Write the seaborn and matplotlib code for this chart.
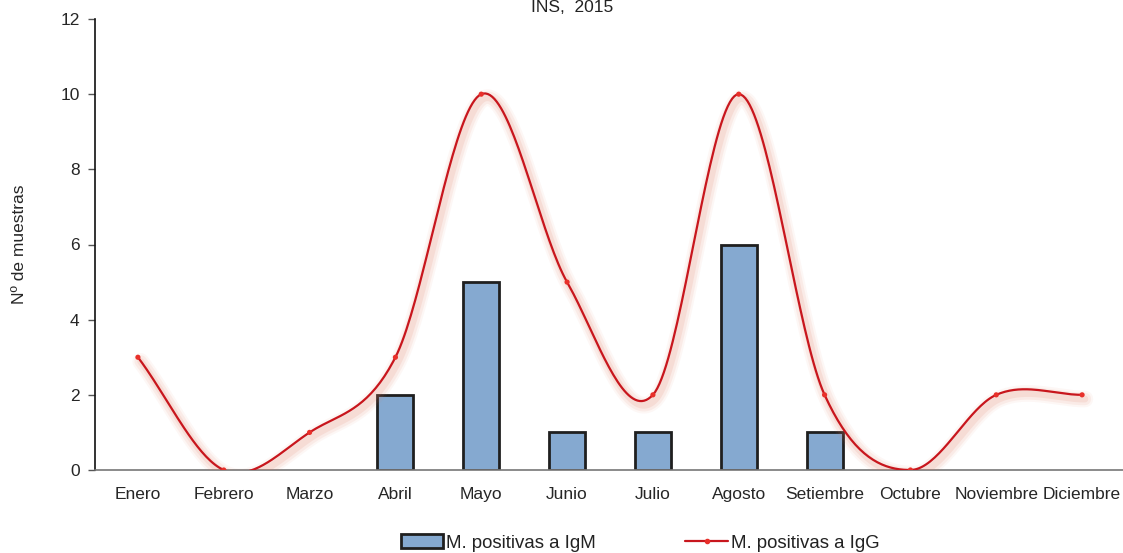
import numpy as np
import pandas as pd
import matplotlib
matplotlib.use("Agg")
import matplotlib.pyplot as plt
import matplotlib.patheffects as pe
from matplotlib.patches import Patch
from matplotlib.lines import Line2D
import seaborn as sns

meses = ["Enero", "Febrero", "Marzo", "Abril", "Mayo", "Junio", "Julio",
         "Agosto", "Setiembre", "Octubre", "Noviembre", "Diciembre"]
igm = [0, 0, 0, 2, 5, 1, 1, 6, 1, 0, 0, 0]
igg = [3, 0, 1, 3, 10, 5, 2, 10, 2, 0, 2, 2]
yticks = [0, 2, 4, 6, 8, 10, 12]

titulo = "INS,  2015"
ylabel = "Nº de muestras"
leg_igm = "M. positivas a IgM"
leg_igg = "M. positivas a IgG"

BAR = "#85A9D0"
EDGE = "#1f1f1f"
RED = "#C8161D"
DOT = "#E8302A"

sns.set_theme(style="white")
plt.rcParams["font.family"] = ["Liberation Sans Narrow", "Liberation Sans", "DejaVu Sans"]
plt.rcParams["text.color"] = "#222222"


def smooth(xs, ys, n=40):
    """Catmull-Rom spline through the points (Excel-style smoothed line)."""
    xs = np.asarray(xs, float)
    ys = np.asarray(ys, float)
    px = np.concatenate([[2 * xs[0] - xs[1]], xs, [2 * xs[-1] - xs[-2]]])
    py = np.concatenate([[2 * ys[0] - ys[1]], ys, [2 * ys[-1] - ys[-2]]])
    ox, oy = [], []
    t = np.linspace(0, 1, n)
    for i in range(1, len(px) - 2):
        for arr, out in ((px, ox), (py, oy)):
            p0, p1, p2, p3 = arr[i - 1], arr[i], arr[i + 1], arr[i + 2]
            seg = 0.5 * ((2 * p1) + (-p0 + p2) * t
                         + (2 * p0 - 5 * p1 + 4 * p2 - p3) * t ** 2
                         + (-p0 + 3 * p1 - 3 * p2 + p3) * t ** 3)
            out.extend(seg if i == len(px) - 3 else seg[:-1])
    return np.array(ox), np.array(oy)


W, H = 1123, 553
fig = plt.figure(figsize=(W / 100, H / 100), dpi=100)
ax = fig.add_axes([95 / W, 1 - 470 / H, 1030 / W, 451 / H])

df = pd.DataFrame({"mes": meses, "igm": igm, "igg": igg})
sns.barplot(data=df, x="mes", y="igm", color=BAR, width=0.42,
            edgecolor=EDGE, linewidth=2, saturation=1, ax=ax, zorder=2)
# empty months get no outline
for bar, v in zip(ax.patches, igm):
    if v == 0:
        bar.set_linewidth(0)

pos = np.arange(len(meses))
sx, sy = smooth(pos, igg)
shadow = [pe.SimpleLineShadow(offset=(2, -3), shadow_color="#E07A60", alpha=a, linewidth=w)
          for a, w in ((0.06, 12), (0.09, 9), (0.13, 5))]
ax.plot(sx, sy, color=RED, lw=1.6, zorder=4,
        path_effects=shadow + [pe.Normal()])
sns.scatterplot(x=pos, y=igg, color=DOT, s=14, edgecolor="none", ax=ax, zorder=5)

ax.set_xlim(-0.5, 11.5)
ax.set_ylim(0, 12)
ax.set_yticks(yticks)
ax.set_yticklabels([str(v) for v in yticks], fontsize=12.5)
ax.set_xticks(pos)
ax.set_xticklabels(meses, fontsize=12.5)
ax.set_xticks(np.arange(-0.5, 12, 1), minor=True)
ax.tick_params(axis="x", which="major", length=0, pad=12)
ax.tick_params(axis="x", which="minor", length=6, width=1, color="#777777", direction="out")
ax.tick_params(axis="y", length=5, width=1, color="#555555", direction="out", pad=6, left=True)
ax.set_xlabel("")
ax.set_ylabel(ylabel, fontsize=12.5)
ax.yaxis.set_label_coords(-68 / 1030, 0.5)

for s in ("top", "right"):
    ax.spines[s].set_visible(False)
ax.spines["left"].set_color("#111111")
ax.spines["left"].set_linewidth(1.2)
ax.spines["bottom"].set_color("#777777")
ax.spines["bottom"].set_linewidth(1.2)

fig.text(572 / W, 1 - 12 / H, titulo, ha="center", va="baseline", fontsize=12.5)

handles = [Patch(facecolor=BAR, edgecolor=EDGE, linewidth=2),
           Line2D([], [], color=RED, lw=1.6, marker="o", markersize=3,
                  markerfacecolor=DOT, markeredgecolor=DOT)]
fig.legend(handles, [leg_igm, leg_igg], loc="center",
           bbox_to_anchor=(640 / W, 1 - 543 / H), ncol=2, frameon=False,
           fontsize=13.4, handlelength=2.3, handletextpad=0.15, columnspacing=4.8)

fig.savefig("out.png", dpi=100)
